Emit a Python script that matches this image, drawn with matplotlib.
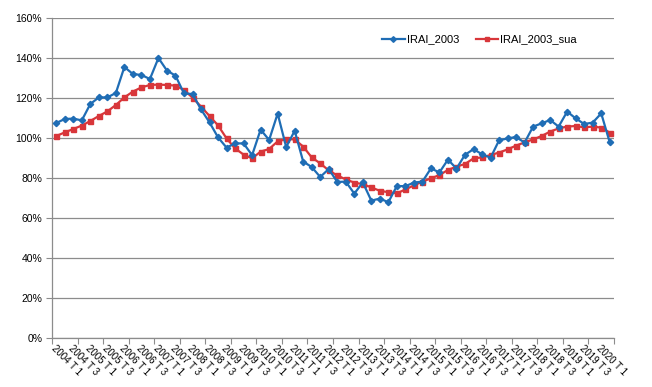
import matplotlib
matplotlib.use("Agg")
import matplotlib.pyplot as plt
from matplotlib.ticker import FixedLocator, NullFormatter

years = list(range(2004, 2021))
quarters = [f"{y} T {q}" for y in years for q in (1, 2, 3, 4)][:66]

irai = [107.5, 109.5, 109.7, 108.8,
        117.0, 120.3, 120.3, 122.5,
        135.5, 132.0, 131.5, 129.5,
        140.0, 133.7, 131.2, 122.3,
        122.0, 114.3, 107.8, 100.3,
        95.2, 97.3, 97.3, 91.4,
        104.2, 99.0, 112.2, 95.5,
        103.6, 88.2, 85.5, 80.5,
        84.5, 78.0, 78.2, 72.2,
        77.8, 68.7, 69.7, 67.9,
        76.0, 75.9, 77.7, 78.2,
        84.8, 82.8, 89.2, 84.7,
        91.6, 94.4, 91.9, 90.1,
        98.8, 99.8, 100.5, 97.7,
        105.7, 107.3, 109.0, 105.7,
        113.2, 109.8, 107.0, 107.7,
        112.3, 97.8]

irai_sua = [101.0, 102.8, 104.5, 106.2,
            108.5, 111.0, 113.3, 116.5,
            120.3, 123.2, 125.3, 126.5,
            126.7, 126.5, 126.2, 124.0,
            120.2, 115.7, 111.0, 106.3,
            99.8, 94.8, 91.7, 89.8,
            93.2, 94.5, 98.3, 99.4,
            99.3, 95.7, 90.3, 87.3,
            83.8, 81.3, 79.3, 77.7,
            76.9, 75.3, 73.6, 72.9,
            72.3, 74.3, 76.3, 78.2,
            79.8, 81.5, 84.0, 85.7,
            87.0, 89.8, 90.3, 91.5,
            92.7, 94.3, 96.2, 97.8,
            99.3, 101.0, 103.2, 104.8,
            105.7, 106.0, 105.3, 105.7,
            105.2, 102.7]

yticks = [0, 20, 40, 60, 80, 100, 120, 140, 160]

plt.rcParams['font.family'] = ['Liberation Sans', 'DejaVu Sans']

fig = plt.figure(figsize=(6.52, 3.87), dpi=100)
ax = fig.add_axes([52/652, 49/387, 562/652, 320/387])

x = list(range(len(quarters)))
blue = '#1f6db5'
red = '#d8363a'
ax.plot(x, irai, color=blue, lw=1.6, marker='D', ms=3.2, mec=blue, mfc=blue,
        label='IRAI_2003', zorder=3)
ax.plot(x, irai_sua, color=red, lw=1.6, marker='s', ms=3.6, mec=red, mfc=red,
        label='IRAI_2003_sua', zorder=2)

ax.set_xlim(-0.5, len(quarters) - 0.5)
ax.set_ylim(0, 160)

grid_c = '#8c8c8c'
ax.set_yticks(yticks)
ax.set_yticklabels([f"{v}%" for v in yticks], fontsize=7.5)
ax.yaxis.grid(True, color=grid_c, lw=0.9)
ax.set_axisbelow(True)

# major ticks: tick marks every 3 categories
ax.xaxis.set_major_locator(FixedLocator([-0.5 + 3 * k for k in range(23)]))
ax.xaxis.set_major_formatter(NullFormatter())
# minor ticks: labels every 2 categories
lab_pos = list(range(0, len(quarters), 2))
ax.xaxis.set_minor_locator(FixedLocator(lab_pos))
ax.set_xticklabels([quarters[i] for i in lab_pos], minor=True, fontsize=7,
                   rotation=-45, ha='left', va='top', rotation_mode='anchor')
ax.tick_params(axis='x', which='minor', length=0, pad=4)
ax.tick_params(axis='x', which='major', length=4, color=grid_c, direction='out')
ax.tick_params(axis='y', length=4, color=grid_c, direction='out', pad=3)

for s in ('top', 'right'):
    ax.spines[s].set_visible(False)
for s in ('left', 'bottom'):
    ax.spines[s].set_color(grid_c)
    ax.spines[s].set_linewidth(0.9)

leg = ax.legend(loc='upper left', bbox_to_anchor=(0.57, 0.98), ncol=2, frameon=False,
                fontsize=8, handlelength=2.0, columnspacing=1.5, handletextpad=0.2,
                markerscale=0.9)

fig.savefig('out.png', dpi=100)
